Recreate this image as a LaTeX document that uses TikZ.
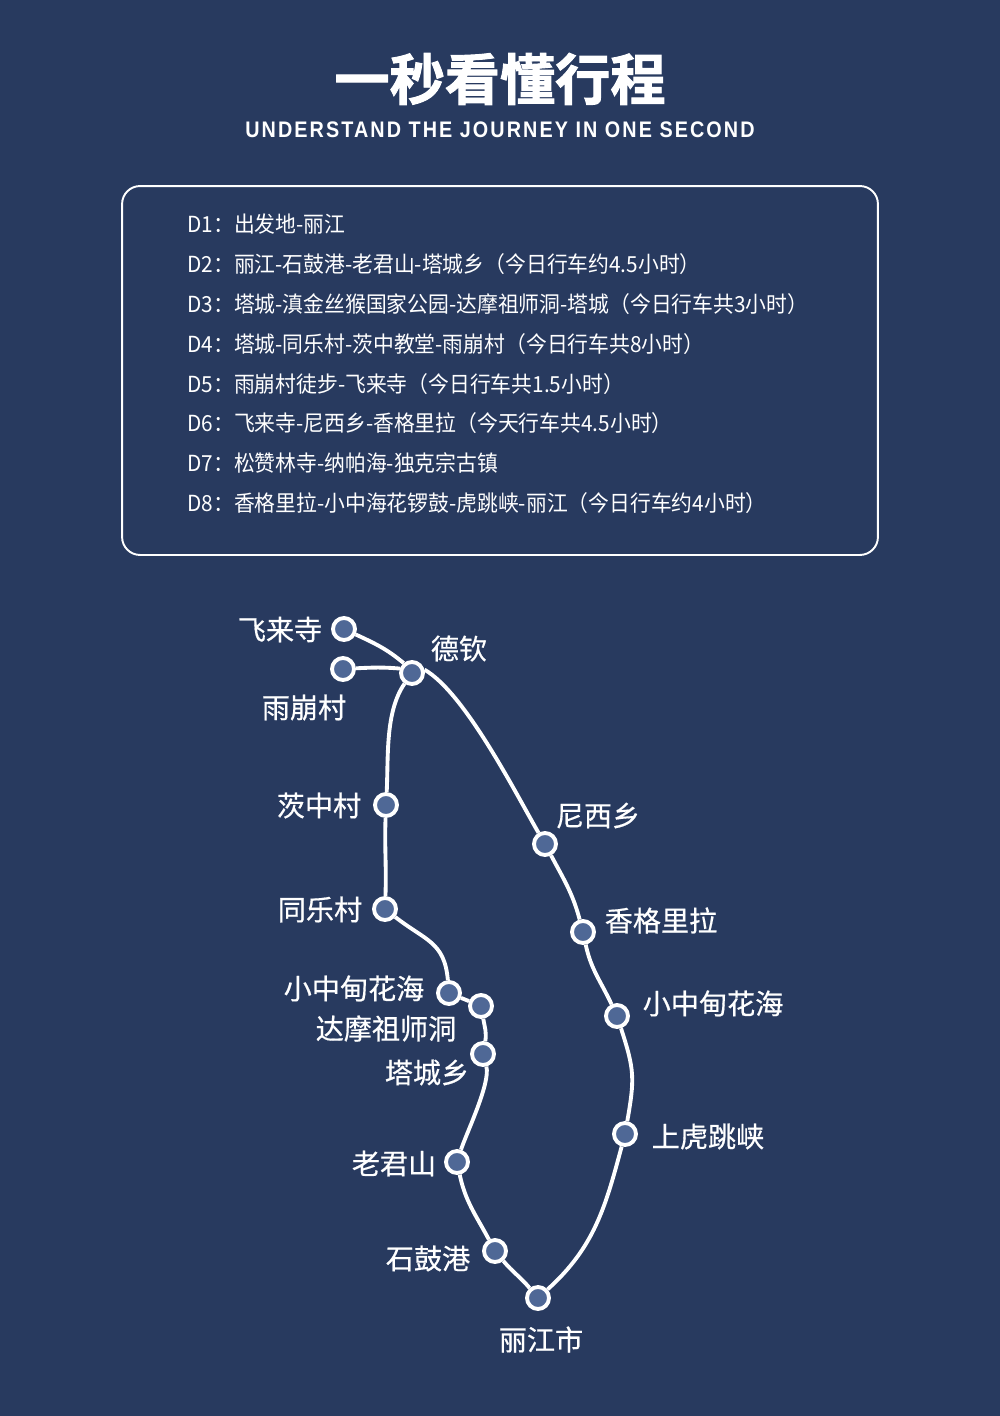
\documentclass[tikz,border=0pt]{standalone}
\usepackage{fontspec}
\setmainfont{Noto Sans CJK SC}
\newfontfamily\headfont[FakeBold=1.7]{Noto Sans CJK SC Bold}
\newfontfamily\subfont[FakeStretch=0.88,LetterSpace=9.2]{Liberation Sans Bold}
\newfontfamily\rowfont[FakeStretch=0.94]{Noto Sans CJK SC}
\newfontfamily\placefont[FakeBold=0.5]{Noto Sans CJK SC}
\usetikzlibrary{positioning}
\definecolor{navybg}{HTML}{283A5F}
\definecolor{stopblue}{HTML}{4F6896}
\tikzset{x=0.02cm, y=-0.02cm,
stop/.style={ % Sets the properties for each stop on the route
circle,
draw=white,
line width=2.2pt,
fill=stopblue,
inner sep=0pt,
minimum size=0.44cm},
place/.style={text=white, font=\placefont\fontsize{16}{16}\selectfont, inner sep=0pt, yshift=-0.01cm},
dayrow/.style={text=white, anchor=west, font=\rowfont\fontsize{12.6}{12.6}\selectfont, inner sep=0pt},
every edge/.style={ % Sets the properties for each route piece
draw=white,
line width=2.2pt}}
\begin{document}
\begin{tikzpicture}
\useasboundingbox (0,0) rectangle (1000,1416);
\fill[navybg] (0,0) rectangle (1000,1416);
\node[text=white, font=\headfont\fontsize{31.4}{31.4}\selectfont, inner sep=0pt] (title) at (500,79) {一秒看懂行程};
\node[text=white, font=\subfont\fontsize{12.8}{12.8}\selectfont, inner sep=0pt] (subtitle) at (500,130) {UNDERSTAND THE JOURNEY IN ONE SECOND};
\node[draw=white, line width=1.1pt, rounded corners=0.36cm, minimum width=15.12cm, minimum height=7.38cm, inner sep=0pt] (panel) at (500,370.5) {};
\node[dayrow] (d1) at (187,224) {D1：出发地-丽江};
\node[dayrow] (d2) at (187,264) {D2：丽江-石鼓港-老君山-塔城乡（今日行车约4.5小时）};
\node[dayrow] (d3) at (187,304) {D3：塔城-滇金丝猴国家公园-达摩祖师洞-塔城（今日行车共3小时）};
\node[dayrow] (d4) at (187,344) {D4：塔城-同乐村-茨中教堂-雨崩村（今日行车共8小时）};
\node[dayrow] (d5) at (187,384) {D5：雨崩村徒步-飞来寺（今日行车共1.5小时）};
\node[dayrow] (d6) at (187,423) {D6：飞来寺-尼西乡-香格里拉（今天行车共4.5小时）};
\node[dayrow] (d7) at (187,463) {D7：松赞林寺-纳帕海-独克宗古镇};
\node[dayrow] (d8) at (187,503) {D8：香格里拉-小中海花锣鼓-虎跳峡-丽江（今日行车约4小时）};
% stops
\node[stop] (feilai) at (344,629) {};
\node[stop] (yubeng) at (343,669) {};
\node[stop] (deqin) at (412,673) {};
\node[stop] (cizhong) at (386,805) {};
\node[stop] (tongle) at (385,909) {};
\node[stop] (xiaoa) at (449,993) {};
\node[stop] (damo) at (481,1006) {};
\node[stop] (tacheng) at (483,1054) {};
\node[stop] (laojun) at (457,1162) {};
\node[stop] (shigu) at (495,1251) {};
\node[stop] (lijiang) at (538,1298) {};
\node[stop] (hutiao) at (625,1134) {};
\node[stop] (xiaob) at (617,1016) {};
\node[stop] (xianggel) at (583,932) {};
\node[stop] (nixi) at (545,844) {};
% labels
\node[place] (lfeilai) at (280,629) {飞来寺};
\node[place] (lyubeng) at (304,707) {雨崩村};
\node[place] (ldeqin) at (459,648) {德钦};
\node[place] (lcizhong) at (319,805) {茨中村};
\node[place] (ltongle) at (320,909) {同乐村};
\node[place] (lxiaoa) at (354,988) {小中甸花海};
\node[place] (ldamo) at (386,1028) {达摩祖师洞};
\node[place] (ltacheng) at (427,1072) {塔城乡};
\node[place] (llaojun) at (394,1163) {老君山};
\node[place] (lshigu) at (428,1258) {石鼓港};
\node[place] (llijiang) at (541,1339) {丽江市};
\node[place] (lnixi) at (598,815) {尼西乡};
\node[place] (lxianggel) at (661,920) {香格里拉};
\node[place] (lxiaob) at (713,1003) {小中甸花海};
\node[place] (lhutiao) at (708,1136) {上虎跳峡};
% route
\draw (feilai) edge[out=-25, in=140] (deqin.130);
\draw (yubeng) edge[out=3, in=175] (deqin.160);
\draw (deqin) edge[out=-125, in=87, looseness=0.8] (cizhong);
\draw (cizhong) edge[out=-92, in=88] (tongle);
\draw (tongle) edge[out=-38, in=95, looseness=1.2] (xiaoa);
\draw (xiaoa) edge (damo);
\draw (damo) edge[out=-80, in=80] (tacheng);
\draw (tacheng) edge[out=-75, in=72, looseness=0.5] (laojun);
\draw (laojun) edge[out=-78, in=118] (shigu);
\draw (shigu) edge[out=-50, in=130] (lijiang);
\draw (lijiang) edge[out=42, in=-105] (hutiao);
\draw (hutiao) edge[out=80, in=-72, looseness=1.2] (xiaob);
\draw (xiaob) edge[out=115, in=-78] (xianggel);
\draw (xianggel) edge[out=105, in=-62] (nixi);
\draw (nixi) edge[out=120, in=-30, looseness=0.6] (deqin.15);
\end{tikzpicture}
\end{document}
